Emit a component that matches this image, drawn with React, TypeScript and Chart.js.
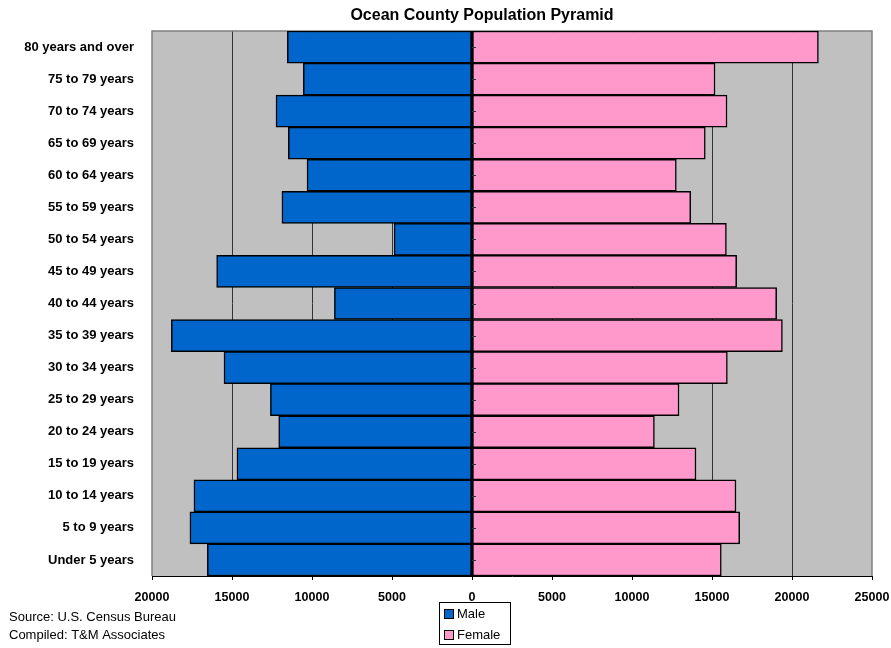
import React, { useEffect, useRef } from "react";
import { Chart, registerables } from "chart.js";

Chart.register(...registerables);

const chartTitle = "Ocean County Population Pyramid";
const sourceLines = ["Source: U.S. Census Bureau", "Compiled: T&M Associates"];

const ageGroups = [
  "80 years and over",
  "75 to 79 years",
  "70 to 74 years",
  "65 to 69 years",
  "60 to 64 years",
  "55 to 59 years",
  "50 to 54 years",
  "45 to 49 years",
  "40 to 44 years",
  "35 to 39 years",
  "30 to 34 years",
  "25 to 29 years",
  "20 to 24 years",
  "15 to 19 years",
  "10 to 14 years",
  "5 to 9 years",
  "Under 5 years",
];

const maleValues = [
  11540, 10540, 12250, 11480, 10310, 11880, 4870, 15960, 8600, 18790, 15500,
  12600, 12080, 14690, 17380, 17630, 16540,
];

const femaleValues = [
  21650, 15190, 15940, 14580, 12770, 13670, 15900, 16540, 19040, 19400, 15960,
  12940, 11400, 14000, 16500, 16730, 15580,
];

const seriesNames = ["Male", "Female"];
const seriesColors = ["#0066CC", "#FF99CC"];

const xMin = -20000;
const xMax = 25000;
const xStep = 5000;

const FONT = 'Arial, "Liberation Sans", sans-serif';

const decorPlugin = {
  id: "decor",
  beforeDraw(chart: any) {
    const { ctx, chartArea } = chart;
    ctx.save();
    ctx.fillStyle = "#C0C0C0";
    ctx.fillRect(
      chartArea.left,
      chartArea.top,
      chartArea.right - chartArea.left,
      chartArea.bottom - chartArea.top
    );
    ctx.restore();
  },
  beforeDatasetsDraw(chart: any) {
    const { ctx, chartArea } = chart;
    ctx.save();
    ctx.strokeStyle = "#808080";
    ctx.lineWidth = 1.5;
    ctx.beginPath();
    ctx.moveTo(chartArea.left, chartArea.bottom);
    ctx.lineTo(chartArea.left, chartArea.top);
    ctx.lineTo(chartArea.right, chartArea.top);
    ctx.lineTo(chartArea.right, chartArea.bottom);
    ctx.stroke();
    ctx.restore();
  },
  afterDatasetsDraw(chart: any) {
    const { ctx, chartArea, scales } = chart;
    const x0 = Math.round(scales.x.getPixelForValue(0));
    ctx.save();
    ctx.strokeStyle = "#000000";
    ctx.lineWidth = 2;
    ctx.beginPath();
    ctx.moveTo(x0, chartArea.top);
    ctx.lineTo(x0, chartArea.bottom);
    ctx.stroke();
    ctx.strokeStyle = "#333333";
    ctx.lineWidth = 1;
    ageGroups.forEach((_, i) => {
      const y = Math.round(scales.y.getPixelForValue(i)) + 0.5;
      ctx.beginPath();
      ctx.moveTo(x0, y);
      ctx.lineTo(x0 + 4, y);
      ctx.stroke();
    });
    ctx.restore();
  },
  afterDraw(chart: any) {
    const { ctx } = chart;
    ctx.save();
    // title
    ctx.fillStyle = "#000000";
    ctx.font = `bold 16px ${FONT}`;
    ctx.textAlign = "center";
    ctx.textBaseline = "middle";
    ctx.fillText(chartTitle, 482, 16);
    // source
    ctx.font = `13px ${FONT}`;
    ctx.textAlign = "left";
    ctx.fillText(sourceLines[0], 9, 617);
    ctx.fillText(sourceLines[1], 9, 635);
    // legend
    const lx = 439.5;
    const ly = 602.5;
    const lw = 71;
    const lh = 42;
    ctx.fillStyle = "#FFFFFF";
    ctx.fillRect(lx, ly, lw, lh);
    ctx.strokeStyle = "#000000";
    ctx.lineWidth = 1;
    ctx.strokeRect(lx, ly, lw, lh);
    const rows = [614, 635];
    seriesNames.forEach((name, i) => {
      const cy = rows[i];
      ctx.fillStyle = seriesColors[i];
      ctx.fillRect(444.5, cy - 4.5, 9, 9);
      ctx.strokeStyle = "#000000";
      ctx.strokeRect(444.5, cy - 4.5, 9, 9);
      ctx.fillStyle = "#000000";
      ctx.font = `13px ${FONT}`;
      ctx.textAlign = "left";
      ctx.textBaseline = "middle";
      ctx.fillText(name, 457, cy + 0.5);
    });
    ctx.restore();
  },
};

export default function App() {
  const canvasRef = useRef<HTMLCanvasElement | null>(null);

  useEffect(() => {
    document.body.style.margin = "0";
    const canvas = canvasRef.current;
    if (!canvas) return;
    const chart = new Chart(canvas, {
      type: "bar",
      data: {
        labels: ageGroups,
        datasets: [
          {
            label: seriesNames[0],
            data: maleValues.map((v) => -v),
            backgroundColor: seriesColors[0],
            borderColor: "#000000",
            borderWidth: 1.5,
            borderSkipped: false,
            categoryPercentage: 1,
            barPercentage: 1,
          },
          {
            label: seriesNames[1],
            data: femaleValues,
            backgroundColor: seriesColors[1],
            borderColor: "#000000",
            borderWidth: 1.5,
            borderSkipped: false,
            categoryPercentage: 1,
            barPercentage: 1,
          },
        ],
      },
      options: {
        indexAxis: "y",
        responsive: false,
        animation: false,
        layout: { padding: { left: 0, top: 31, right: 19, bottom: 0 } },
        plugins: {
          legend: { display: false },
          title: { display: false },
          tooltip: { enabled: false },
        },
        scales: {
          x: {
            stacked: true,
            min: xMin,
            max: xMax,
            ticks: {
              stepSize: xStep,
              color: "#000000",
              font: { family: FONT, size: 12.5, weight: "bold" },
              padding: 10,
              maxRotation: 0,
              callback: (v: any) => String(Math.abs(Number(v))),
            },
            grid: {
              color: (c: any) => {
                const v = c.tick ? c.tick.value : 0;
                if (v === xMin || v === xMax || v === 0) return "rgba(0,0,0,0)";
                return "#333333";
              },
              lineWidth: 1,
              drawTicks: true,
              tickLength: 4,
              tickColor: "#000000",
            },
            border: { display: true, color: "#000000", width: 1 },
            afterFit: (scale: any) => {
              scale.height = 72;
              scale.paddingLeft = 0;
              scale.paddingRight = 0;
            },
          },
          y: {
            stacked: true,
            ticks: {
              color: "#000000",
              font: { family: FONT, size: 13, weight: "bold" },
              padding: 18,
            },
            grid: { display: false, drawTicks: false },
            border: { display: false },
            afterFit: (scale: any) => {
              scale.width = 152;
              scale.paddingTop = 0;
              scale.paddingBottom = 0;
            },
          },
        },
      },
      plugins: [decorPlugin],
    });
    return () => chart.destroy();
  }, []);

  return (
    <div style={{ width: 891, height: 648, background: "#FFFFFF" }}>
      <canvas ref={canvasRef} width={891} height={648} />
    </div>
  );
}
